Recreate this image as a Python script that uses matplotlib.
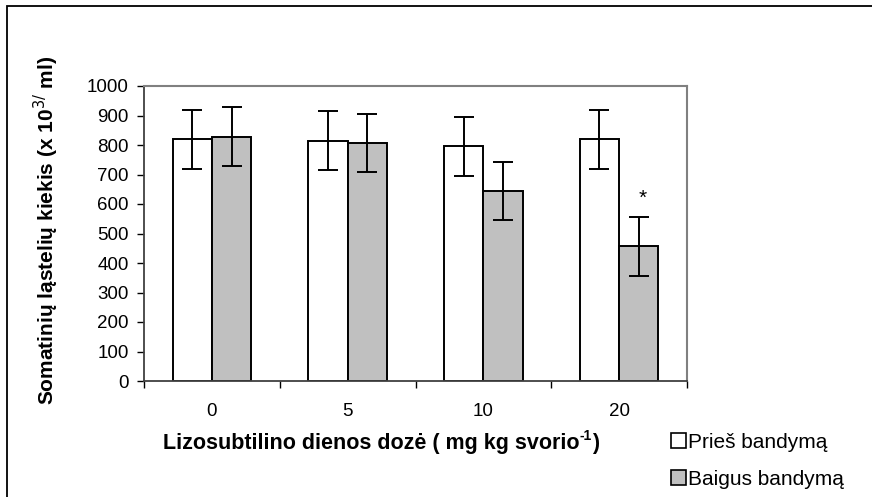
import matplotlib
matplotlib.use("Agg")
import matplotlib.pyplot as plt
from matplotlib.patches import Patch, Rectangle
import numpy as np

plt.rcParams['font.family'] = ['Liberation Sans', 'DejaVu Sans']

# data
doses = ['0', '5', '10', '20']
before = [820, 815, 795, 820]
before_err = [100, 100, 100, 100]
after = [828, 808, 645, 457]
after_err = [100, 98, 98, 100]
star_y = 620

fig = plt.figure(figsize=(8.72, 4.97), dpi=100)
W, H = 872, 497
ax = fig.add_axes([144 / W, 1 - 381 / H, (687 - 144) / W, (381 - 86) / H])

x = np.arange(len(doses)) + 0.5
w = 0.29
ax.bar(x - w / 2, before, w, color='white', edgecolor='black', linewidth=1.4, zorder=2)
ax.bar(x + w / 2, after, w, color='#c0c0c0', edgecolor='black', linewidth=1.4, zorder=2)
ax.errorbar(x - w / 2, before, yerr=before_err, fmt='none', ecolor='black',
            elinewidth=1.4, capsize=7.5, capthick=1.4, zorder=3)
ax.errorbar(x + w / 2, after, yerr=after_err, fmt='none', ecolor='black',
            elinewidth=1.4, capsize=7.5, capthick=1.4, zorder=3)
ax.text(x[3] + w / 2 + 0.03, star_y, '*', ha='center', va='center', fontsize=15)

ax.set_xlim(0, 4)
ax.set_ylim(0, 1000)
ax.set_yticks(np.arange(0, 1001, 100))
ax.set_xticks(np.arange(0, 5))
ax.set_xticks(x, minor=True)
ax.set_xticklabels([])
ax.set_xticklabels(doses, minor=True)
ax.tick_params(axis='x', which='minor', length=0, labelsize=13.5, pad=16)
ax.tick_params(axis='x', which='major', length=5, direction='out', width=1)
ax.tick_params(axis='y', length=5, direction='out', width=1, labelsize=13.5, pad=6)

for s in ['top', 'right']:
    ax.spines[s].set_color('#808080')
    ax.spines[s].set_linewidth(1.5)
for s in ['left', 'bottom']:
    ax.spines[s].set_color('#404040')
    ax.spines[s].set_linewidth(1.3)

fig.text(46 / W, 1 - 230 / H, 'Somatinių ląstelių kiekis (x 10$^{3/}$ ml)',
         rotation=90, ha='center', va='center', fontsize=15, fontweight='bold')

# x label with a small hyphen superscript, built from pieces
xl_y = 1 - 443 / H
t1 = fig.text(163 / W, xl_y, 'Lizosubtilino dienos dozė ( mg kg svorio',
              ha='left', va='center', fontsize=15.5, fontweight='bold')
fig.canvas.draw()
bb = t1.get_window_extent()
t2 = fig.text(bb.x1 / W, xl_y + 7 / H, '-1', ha='left', va='center',
              fontsize=10, fontweight='bold')
fig.canvas.draw()
bb2 = t2.get_window_extent()
fig.text(bb2.x1 / W, xl_y, ')', ha='left', va='center', fontsize=15.5, fontweight='bold')

handles = [Patch(facecolor='white', edgecolor='black', linewidth=1.2),
           Patch(facecolor='#c0c0c0', edgecolor='black', linewidth=1.2)]
fig.legend(handles, ['Prieš bandymą', 'Baigus bandymą'], loc='upper left',
           bbox_to_anchor=(671 / W, 1 - 433 / H), frameon=False, fontsize=15,
           handlelength=0.7, handleheight=0.7, handletextpad=0.1,
           labelspacing=0.85, borderpad=0, borderaxespad=0)

# outer frame (only left/top visible in the original crop)
fig.patches.append(Rectangle((7 / W, -0.1), 1.2, (1 - 6 / H) + 0.1,
                             transform=fig.transFigure, fill=False,
                             edgecolor='black', linewidth=1.3))

fig.savefig('out.png', dpi=100)
